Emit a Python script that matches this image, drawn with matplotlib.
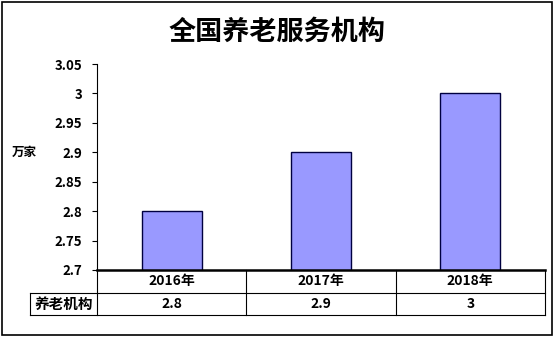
import matplotlib.pyplot as plt
from matplotlib.patches import Rectangle
from matplotlib.lines import Line2D

plt.rcParams['font.family'] = ['Noto Sans CJK SC', 'DejaVu Sans']

# 数据
years = ['2016年', '2017年', '2018年']
values = [2.8, 2.9, 3]
value_labels = ['2.8', '2.9', '3']
series_name = '养老机构'
yticks = [2.7, 2.75, 2.8, 2.85, 2.9, 2.95, 3, 3.05]
ytick_labels = ['2.7', '2.75', '2.8', '2.85', '2.9', '2.95', '3', '3.05']

fig = plt.figure(figsize=(5.55, 3.37), dpi=100)
fig.patches.append(Rectangle((0.004, 0.006), 0.991, 0.988, transform=fig.transFigure,
                             fill=False, edgecolor='black', linewidth=1.2))

ax = fig.add_axes([0.1748, 0.199, 0.807, 0.611])
x = range(len(years))
ax.bar(x, values, width=0.4, bottom=0, color='#9999FF', edgecolor='#000040', linewidth=1)
ax.set_xlim(-0.5, len(years) - 0.5)
ax.set_ylim(2.7, 3.05)
ax.set_yticks(yticks)
ax.set_yticklabels(ytick_labels, fontsize=9.5, fontweight='bold')
ax.set_xticks([])
for s in ['top', 'right']:
    ax.spines[s].set_visible(False)
ax.spines['bottom'].set_linewidth(1.8)
ax.spines['left'].set_linewidth(0.8)
ax.tick_params(axis='y', direction='out', length=3.5, width=0.8, pad=7)
ax.set_ylabel('万家', rotation=0, fontsize=9, fontweight='bold', va='center', ha='center')
ax.yaxis.set_label_coords(-0.163, 0.57)

fig.text(0.5, 0.905, '全国养老服务机构', ha='center', va='center',
         fontsize=19.5, fontweight='bold')

# 数据表
r1 = -0.112
r2 = -0.218
left = -0.150
lw = 0.8
n = len(years)
tr = ax.transAxes
lines = [
    ([0, 1], [r1, r1]),
    ([left, 1], [r2, r2]),
    ([left, 0], [r1, r1]),
    ([left, left], [r1, r2]),
    ([1, 1], [0, r2]),
]
for i in range(n):
    lines.append(([i / n, i / n], [0, r2]))
for xs, ys in lines:
    ax.add_line(Line2D(xs, ys, transform=tr, color='black', linewidth=lw, clip_on=False))

for i, (yr, vl) in enumerate(zip(years, value_labels)):
    cx = (i + 0.5) / n
    ax.text(cx, r1 / 2, yr, transform=tr, ha='center', va='center',
            fontsize=10, fontweight='bold')
    ax.text(cx, (r1 + r2) / 2, vl, transform=tr, ha='center', va='center',
            fontsize=10, fontweight='bold')
ax.text(left / 2, (r1 + r2) / 2, series_name, transform=tr, ha='center', va='center',
        fontsize=10.5, fontweight='bold')

fig.savefig('out.png', dpi=100)
